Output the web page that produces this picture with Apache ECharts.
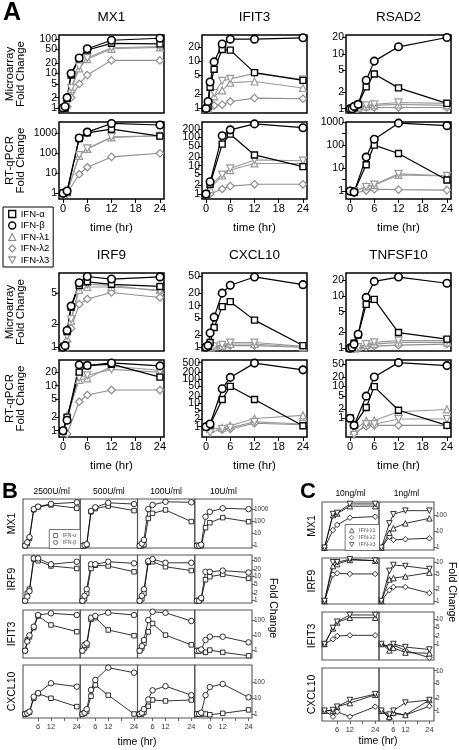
<!DOCTYPE html>
<html><head><meta charset="utf-8">
<script src="https://cdn.jsdelivr.net/npm/echarts@6/dist/echarts.min.js"></script>
<style>html,body{margin:0;padding:0;background:#fff}#c{width:459px;height:750px}</style>
</head><body><div id="c"></div>
<script>
// ---------------- shared ----------------
const seriesNames = ['IFN-α','IFN-β','IFN-λ1','IFN-λ2','IFN-λ3'];
const timeTicksA = [0, 6, 12, 18, 24];
const timeTicksBC = [6, 12, 18, 24];
const timeLabelsBC = [6, 12, 24];

// ---------------- Panel A (order: α, β, λ1, λ2, λ3) ----------------
const timesMicro = [0, 0.5, 1, 2, 4, 6, 12, 24];
const timesQPCR = [0, 1, 4, 6, 12, 24];

const MX1_micro = [
  [1, 1, 1.9, 9, 27, 48, 75, 72],
  [1, 1.1, 2, 10, 28, 52, 92, 105],
  [1, 1, 1.3, 3.5, 14, 26, 52, 57],
  [1, 1, 1.1, 2, 5, 9, 24, 24],
  [1, 1, 1.3, 3.8, 16, 28, 56, 60]];
const MX1_qpcr = [
  [1, 1.2, 550, 1050, 1600, 720],
  [1, 1.3, 580, 1150, 3100, 2600],
  [1, 1.1, 75, 165, 620, 760],
  [1, 1, 9, 20, 66, 100],
  [1, 1.1, 82, 175, 660, 740]];
const IFIT3_micro = [
  [1, 1.1, 2.8, 6.7, 17.5, 17, 5.7, 3.9],
  [1, 1.4, 3.6, 9.6, 23, 29, 29, 31],
  [1, 1, 1.2, 1.8, 2.4, 3.5, 3.7, 2.7],
  [1, 1, 1.1, 1.15, 1.2, 1.4, 1.65, 1.6],
  [1, 1.05, 1.3, 2.1, 3.8, 4.2, 5.5, 4.1]];
const IFIT3_qpcr = [
  [1, 2.2, 58, 130, 24, 9.3],
  [1, 2.7, 115, 185, 300, 220],
  [1, 1.5, 4.5, 7, 12, 12],
  [1, 1, 1.5, 1.9, 2.2, 2.2],
  [1, 2, 4.8, 8, 16, 15]];
const RSAD2_micro = [
  [1, 1, 1.05, 1.2, 2.5, 4.3, 2.4, 1.25],
  [1, 1, 1.1, 1.2, 3.3, 7.4, 13.5, 20],
  [1, 1, 1, 1.05, 1.1, 1.15, 1.2, 1.15],
  [1, 1, 1, 1, 1.05, 1.05, 1.05, 1.05],
  [1, 1, 1, 1.05, 1.15, 1.2, 1.3, 1.25]];
const RSAD2_qpcr = [
  [1, 0.9, 14, 100, 43, 3],
  [1, 0.9, 30, 180, 900, 700],
  [1, 0.9, 1.6, 1.8, 5, 4.5],
  [1, 0.8, 1.05, 1.2, 1.15, 1.1],
  [1, 1, 1.5, 1.9, 5.6, 4.6]];
const IRF9_micro = [
  [1, 1.05, 1.6, 3.3, 6.3, 7, 6.5, 6.1],
  [1, 1.05, 1.65, 3.4, 6.8, 8.2, 7.6, 8.1],
  [1, 1, 1.3, 2.2, 5.5, 6, 6, 5.5],
  [1, 1, 1.2, 1.75, 3.6, 4.2, 5.1, 4.4],
  [1, 1, 1.4, 2.3, 6, 6.5, 6.3, 5.3]];
const IRF9_qpcr = [
  [1, 2, 20, 28, 30, 15.5],
  [1, 1.7, 29, 28, 32, 27.5],
  [1, 2.2, 13.5, 14.5, 27, 22],
  [1, 0.85, 4.4, 6.2, 8, 8],
  [0.9, 1.8, 15, 17, 23, 20]];
const CXCL10_micro = [
  [1, 1.05, 1.3, 3, 9.5, 12.5, 4.5, 1.1],
  [1, 1.1, 2.2, 5.3, 20, 31, 49, 32],
  [1, 1, 1, 1.05, 1.1, 1.2, 1.2, 1.0],
  [1, 1, 1, 1, 1.05, 1.1, 1.1, 1.0],
  [1, 1, 1, 1.05, 1.15, 1.3, 1.3, 1.05]];
const CXCL10_qpcr = [
  [1, 1.2, 14, 50, 14, 1.1],
  [1, 1.3, 40, 120, 480, 250],
  [1, 0.8, 0.9, 1.1, 2.2, 3],
  [1, 0.9, 0.75, 0.8, 1.4, 1.2],
  [1, 0.55, 0.8, 0.9, 1.6, 1.3]];
const TNFSF10_micro = [
  [1, 1.05, 1.25, 1.8, 6.9, 8.6, 2, 1.5],
  [1, 1.05, 1.2, 1.85, 9.4, 19, 23, 17.5],
  [1, 1, 1, 1.05, 1.15, 1.2, 1.3, 1.3],
  [1, 1, 1, 1, 1.05, 1.1, 1.15, 1.2],
  [1, 1, 1, 1.05, 1.2, 1.3, 1.4, 1.4]];
const TNFSF10_qpcr = [
  [1, 0.6, 2.2, 10, 1.8, 0.6],
  [1, 0.6, 5, 20, 57, 46],
  [1, 0.4, 0.85, 0.85, 1.6, 1.9],
  [1, 0.35, 0.55, 0.6, 0.6, 0.6],
  [1, 0.3, 0.65, 0.65, 0.95, 0.95]];

// y tick labels and visible ranges (fold change) for panel A
const MX1_micro_ticks = [1, 2, 5, 10, 20, 50, 100];      const MX1_micro_range = [0.716, 130.6];
const MX1_qpcr_ticks = [1, 10, 100, 1000];               const MX1_qpcr_range = [0.52, 3670];
const IFIT3_micro_ticks = [1, 2, 5, 10, 20];             const IFIT3_micro_range = [0.8, 35.5];
const IFIT3_qpcr_ticks = [1, 2, 5, 10, 20, 50, 100, 200];const IFIT3_qpcr_range = [0.665, 350];
const RSAD2_micro_ticks = [1, 2, 5, 10, 20];             const RSAD2_micro_range = [0.834, 22.2];
const RSAD2_qpcr_ticks = [1, 10, 100, 1000];             const RSAD2_qpcr_range = [0.45, 1010];
const RSAD2_qpcr_minor = [3.162, 31.62, 316.2];
const IRF9_micro_ticks = [1, 2, 5];                      const IRF9_micro_range = [0.895, 9.1];
const IRF9_qpcr_ticks = [1, 2, 5, 10, 20];               const IRF9_qpcr_range = [0.724, 37.2];
const CXCL10_micro_ticks = [1, 2, 5, 10, 20, 50];        const CXCL10_micro_range = [0.815, 61];
const CXCL10_qpcr_ticks = [1, 2, 5, 10, 20, 50, 100, 200, 500]; const CXCL10_qpcr_range = [0.367, 650];
const TNFSF10_micro_ticks = [1, 2, 5, 10, 20];           const TNFSF10_micro_range = [0.888, 27.5];
const TNFSF10_qpcr_ticks = [1, 2, 5, 10, 20, 50];        const TNFSF10_qpcr_range = [0.257, 69];

// ---------------- Panel B (IFN-α, IFN-β at four doses) ----------------
const timesB = [0, 1, 2, 4, 6, 12, 24];
const dosesB = ['2500U/ml', '500U/ml', '100U/ml', '10U/ml'];
const genesB = ['MX1', 'IRF9', 'IFIT3', 'CXCL10'];
const B_MX1_alpha = [[1, 1.5, 4, 900, 1500, 2200, 1200], [1, 1, 1.2, 600, 1100, 1800, 750], [1, 1, 1.2, 170, 450, 850, 95], [1, 1, 1, 30, 77, 200, 93]];
const B_MX1_beta  = [[1, 1.9, 5, 1000, 1600, 2700, 3600], [1, 1.1, 1.3, 700, 1400, 3300, 2600], [1, 1.5, 3, 1000, 2200, 4000, 3600], [1, 1, 1.2, 240, 600, 1170, 1000]];
const B_IRF9_alpha = [[1, 2, 3, 54, 46, 28, 22], [1, 1.2, 2, 22, 30, 28, 16], [1, 1.2, 2, 40, 42, 26, 18], [1, 1, 1.2, 7.5, 10, 12.5, 8.5]];
const B_IRF9_beta  = [[1, 1.5, 2.5, 58, 58, 33, 42], [1, 1.6, 3, 33, 33, 42, 36], [1, 1.6, 3, 45, 54, 38, 38], [1, 1, 1.3, 16, 16, 18, 15]];
const B_IFIT3_alpha = [[1, 5, 8, 32, 185, 48, 17.5], [1, 1.5, 2.2, 112, 144, 22.6, 9.6], [1, 1.5, 3, 17, 60, 10.5, 2.4], [1, 1, 1, 0.78, 1.1, 0.78, 0.47]];
const B_IFIT3_beta  = [[1, 4, 10, 37, 215, 277, 215], [1, 2.4, 3, 144, 185, 305, 215], [1, 2, 5, 100, 350, 300, 87], [1, 1, 1.2, 5, 8.2, 8.2, 3.5]];
const B_CXCL10_alpha = [[1, 1.1, 1.3, 9.6, 19, 9.6, 2.9], [1, 1.1, 1.5, 13, 65, 15, 1], [1, 1, 1.3, 3, 7.5, 6.5, 7.5], [1, 1, 1, 1, 0.9, 1.1, 1.8]];
const B_CXCL10_beta  = [[1, 1.1, 1.4, 12, 20, 83, 51], [1, 1.2, 2, 32, 133, 780, 380], [1, 1.2, 2, 8, 30, 55, 15], [1, 1, 1.2, 15, 48, 75, 11]];
const B_ticks = [[1, 10, 100, 1000], [1, 2, 5, 10, 20, 50], [1, 10, 100], [1, 10, 100]];
const B_ranges = [[0.646, 6760], [0.802, 80.2], [0.333, 457], [0.562, 1148]];

// ---------------- Panel C (IFN-λ1, λ2, λ3 at two doses) ----------------
const timesC = [0, 4, 6, 12, 24];
const dosesC = ['10ng/ml', '1ng/ml'];
const C_MX1_l1 = [[1, 100, 125, 350, 350], [1, 8.3, 15.5, 31, 63]];
const C_MX1_l2 = [[1, 12, 25, 69, 80], [1, 4.7, 3, 3.3, 3.8]];
const C_MX1_l3 = [[1, 115, 135, 480, 480], [1, 31, 112, 186, 186]];
const C_IRF9_l1 = [[1, 8, 9, 11.5, 11], [1, 3.6, 3.9, 4.3, 5.4]];
const C_IRF9_l2 = [[1, 4.8, 5.2, 5, 5], [1, 1.9, 2.3, 2.3, 1.6]];
const C_IRF9_l3 = [[1, 10, 10, 12, 11], [1, 6, 8.5, 8, 6.7]];
const C_IFIT3_l1 = [[1, 4.3, 7.5, 11.6, 11.6], [1, 0.55, 0.7, 0.45, 0.42]];
const C_IFIT3_l2 = [[1, 1.55, 2.1, 2.25, 2.25], [1, 0.8, 0.9, 0.55, 0.28]];
const C_IFIT3_l3 = [[1, 4.5, 8, 15, 15], [1, 0.7, 1.0, 0.75, 0.6]];
const C_CXCL10_l1 = [[1, 1.0, 1.26, 1.55, 2.5], [1, 0.7, 0.9, 0.78, 1.85]];
const C_CXCL10_l2 = [[1, 0.71, 0.94, 0.71, 1.26], [1, 0.65, 0.85, 0.78, 1.3]];
const C_CXCL10_l3 = [[1, 1.04, 1.26, 1.85, 2.6], [1, 0.8, 1.0, 1.6, 1.85]];
const C_ticks = [[1, 10, 100], [1, 2, 5, 10], [1, 2, 5, 10], [1, 2, 5, 10]];
const C_ranges = [[0.723, 631], [0.836, 12.9], [0.225, 19.8], [0.553, 11.7]];

// ---------------- build ----------------
const FONT = '"Liberation Sans", Arial, Helvetica, sans-serif';
const DOWN = 'path://M0,0L10,0L5,9Z';
const lg = v => Math.log10(v);
const fmt = v => String(+Math.pow(10, v).toPrecision(3));

const grids = [], xAxes = [], yAxes = [], series = [];

function yAxisDef(gi, o, labels, withTicks, allTicks) {
  return {gridIndex: gi, type: 'value', min: lg(o.yRange[0]), max: lg(o.yRange[1]),
    show: o.yShow !== false, position: o.yPos, offset: 0,
    axisLine: {show: false, onZero: false}, splitLine: {show: false},
    axisTick: {show: withTicks, customValues: allTicks, length: o.tickLen, lineStyle: {color: o.tickColor, width: o.tickW}},
    axisLabel: {show: labels.length > 0, customValues: labels, hideOverlap: false,
      formatter: v => fmt(v), fontSize: o.yFont, color: o.labelColor, fontFamily: FONT, margin: o.yMargin}};
}

function addCell(o) {
  const gi = grids.length;
  grids.push({left: o.left, top: o.top, width: o.width, height: o.height, show: true,
    borderColor: o.border, borderWidth: o.borderWidth, backgroundColor: 'transparent',
    containLabel: false, outerBoundsMode: 'none'});
  const xa = {gridIndex: gi, type: 'value', min: o.xMin, max: o.xMax,
    axisLine: {show: false, onZero: false}, splitLine: {show: false},
    axisTick: {show: !!o.xTicks, customValues: o.xTicks || [], length: o.tickLen, lineStyle: {color: o.tickColor, width: o.tickW}},
    axisLabel: {show: !!o.xLabels, customValues: o.xLabels || [], hideOverlap: false, fontSize: o.xFont, color: o.labelColor, fontFamily: FONT, margin: o.xMargin}};
  if (o.xName) {
    Object.assign(xa, {name: o.xName, nameLocation: 'middle', nameGap: o.xNameGap,
      nameTextStyle: {fontSize: o.xNameFont, fontFamily: FONT, color: '#000'}});
  }
  const xi = xAxes.length;
  xAxes.push(xa);
  const yt = o.yTicks.map(lg);
  const ytAll = o.yMinor ? yt.concat(o.yMinor.map(lg)) : yt;
  // tick labels split over two coincident axes so that dense labels are all kept
  const even = yt.filter((v, i) => i % 2 === 0), odd = yt.filter((v, i) => i % 2 === 1);
  const yi = yAxes.length;
  yAxes.push(yAxisDef(gi, o, even, true, ytAll));
  if (odd.length) yAxes.push(yAxisDef(gi, o, odd, false, []));
  return {xi: xi, yi: yi};
}

function addSeries(ax, name, times, vals, st) {
  series.push({type: 'line', name: name, xAxisIndex: ax.xi, yAxisIndex: ax.yi,
    data: times.map((t, i) => [t, lg(vals[i])]),
    symbol: st.sym, symbolSize: st.size, showSymbol: true, silent: true, animation: false,
    itemStyle: {color: '#fff', borderColor: st.color, borderWidth: st.bw, opacity: 1},
    lineStyle: {color: st.color, width: st.lw},
    emphasis: {disabled: true}});
}

// Panel A
const STY_A = [
  {sym: 'rect', size: 6, color: '#000', bw: 1.4, lw: 1.2},
  {sym: 'circle', size: 7.5, color: '#000', bw: 1.6, lw: 1.2},
  {sym: 'triangle', size: 7, color: '#9a9a9a', bw: 1.2, lw: 1.1},
  {sym: 'diamond', size: 7.5, color: '#8e8e8e', bw: 1.2, lw: 1.1},
  {sym: DOWN, size: 7, color: '#9a9a9a', bw: 1.2, lw: 1.1}];
const drawOrder = [3, 2, 4, 0, 1];

const panelA = [
  ['MX1', 0, 0, MX1_micro, MX1_micro_ticks, MX1_micro_range, MX1_qpcr, MX1_qpcr_ticks, MX1_qpcr_range, null],
  ['IFIT3', 1, 0, IFIT3_micro, IFIT3_micro_ticks, IFIT3_micro_range, IFIT3_qpcr, IFIT3_qpcr_ticks, IFIT3_qpcr_range, null],
  ['RSAD2', 2, 0, RSAD2_micro, RSAD2_micro_ticks, RSAD2_micro_range, RSAD2_qpcr, RSAD2_qpcr_ticks, RSAD2_qpcr_range, RSAD2_qpcr_minor],
  ['IRF9', 0, 1, IRF9_micro, IRF9_micro_ticks, IRF9_micro_range, IRF9_qpcr, IRF9_qpcr_ticks, IRF9_qpcr_range, null],
  ['CXCL10', 1, 1, CXCL10_micro, CXCL10_micro_ticks, CXCL10_micro_range, CXCL10_qpcr, CXCL10_qpcr_ticks, CXCL10_qpcr_range, null],
  ['TNFSF10', 2, 1, TNFSF10_micro, TNFSF10_micro_ticks, TNFSF10_micro_range, TNFSF10_qpcr, TNFSF10_qpcr_ticks, TNFSF10_qpcr_range, null]];
const colLeftA = [59, 202, 346];
const blockTopA = [35, 273];
const graphics = [];
const txt = (text, x, y, size, opts) => {
  opts = opts || {};
  graphics.push({type: 'text', x: x, y: y, rotation: opts.rot || 0, silent: true,
    style: {text: text, font: (opts.bold ? 'bold ' : '') + size + 'px ' + FONT, fill: opts.color || '#000',
      align: opts.align || 'center', verticalAlign: opts.va || 'middle', lineHeight: opts.lh}});
};

panelA.forEach(p => {
  const [gene, c, r, micro, mT, mR, qp, qT, qR, qMinor] = p;
  const left = colLeftA[c], top = blockTopA[r], w = 105;
  const common = {left: left, width: w, border: '#000', borderWidth: 1.5, xMin: -1, xMax: 25,
    tickLen: 4, tickColor: '#000', tickW: 1, labelColor: '#000', yFont: 10.5, yMargin: 2, yPos: 'left'};
  const a1 = addCell(Object.assign({}, common, {top: top, height: 78, yTicks: mT, yRange: mR}));
  const a2 = addCell(Object.assign({}, common, {top: top + 87, height: 77, yTicks: qT, yRange: qR, yMinor: qMinor,
    xTicks: timeTicksA, xLabels: timeTicksA, xFont: 11, xMargin: 4, xName: 'time (hr)', xNameGap: 23, xNameFont: 11.5}));
  drawOrder.forEach(k => {
    addSeries(a1, seriesNames[k], timesMicro, micro[k], STY_A[k]);
    addSeries(a2, seriesNames[k], timesQPCR, qp[k], STY_A[k]);
  });
  txt(gene, left + w / 2, top - 18, 13.5);
});
txt('A', 3, 1, 25, {bold: true, align: 'left', va: 'top'});
[[74, 'Microarray\nFold Change'], [160.5, 'RT-qPCR\nFold Change'], [312, 'Microarray\nFold Change'], [398.5, 'RT-qPCR\nFold Change']]
  .forEach(([y, t]) => txt(t, 15.5, y, 11.5, {rot: Math.PI / 2, lh: 11}));

// Panel B
const STY_B = [
  {sym: 'rect', size: 4.5, color: '#000', bw: 0.8, lw: 0.8},
  {sym: 'circle', size: 5.5, color: '#000', bw: 0.8, lw: 0.8}];
const bData = [[B_MX1_alpha, B_MX1_beta], [B_IRF9_alpha, B_IRF9_beta], [B_IFIT3_alpha, B_IFIT3_beta], [B_CXCL10_alpha, B_CXCL10_beta]];
const bRowTop = [499, 555, 610, 665], bRowH = [49, 48, 48, 53];
const bColW = 57.25;
genesB.forEach((gene, r) => {
  for (let c = 0; c < 4; c++) {
    const ax = addCell({left: 23 + c * bColW, top: bRowTop[r], width: bColW, height: bRowH[r],
      border: '#555', borderWidth: 1.1, xMin: -1, xMax: 25.6,
      tickLen: 3, tickColor: '#444', tickW: 0.8, labelColor: '#333',
      yTicks: B_ticks[r], yRange: B_ranges[r], yShow: c === 3, yPos: 'right', yFont: 6.5, yMargin: 2,
      xTicks: r === 3 ? timeTicksBC : null, xLabels: r === 3 ? timeLabelsBC : null, xFont: 7.5, xMargin: 5});
    addSeries(ax, seriesNames[0], timesB, bData[r][0][c], STY_B[0]);
    addSeries(ax, seriesNames[1], timesB, bData[r][1][c], STY_B[1]);
  }
  txt(gene, 12.5, bRowTop[r] + bRowH[r] / 2, 10.5, {rot: Math.PI / 2});
});
dosesB.forEach((d, c) => txt(d, 23 + (c + 0.5) * bColW, 492, 8.5));
txt('B', 2, 481, 22, {bold: true, align: 'left', va: 'top'});
txt('time (hr)', 137, 742, 10.5);
txt('Fold Change', 273, 608, 10.5, {rot: -Math.PI / 2});

// Panel C
const STY_C = [
  {sym: 'triangle', size: 5.5, color: '#000', bw: 0.8, lw: 0.8},
  {sym: 'diamond', size: 5.5, color: '#000', bw: 0.8, lw: 0.8},
  {sym: DOWN, size: 5.5, color: '#000', bw: 0.8, lw: 0.8}];
const cData = [[C_MX1_l1, C_MX1_l2, C_MX1_l3], [C_IRF9_l1, C_IRF9_l2, C_IRF9_l3], [C_IFIT3_l1, C_IFIT3_l2, C_IFIT3_l3], [C_CXCL10_l1, C_CXCL10_l2, C_CXCL10_l3]];
const cRowTop = [502, 558, 612, 668], cRowH = [48, 46, 48, 53];
const cColLeft = [322, 379], cColW = [57, 55], cXMax = [25.8, 26.3];
genesB.forEach((gene, r) => {
  for (let c = 0; c < 2; c++) {
    const ax = addCell({left: cColLeft[c], top: cRowTop[r], width: cColW[c], height: cRowH[r],
      border: '#555', borderWidth: 1.1, xMin: -1.2, xMax: cXMax[c],
      tickLen: 3, tickColor: '#444', tickW: 0.8, labelColor: '#333',
      yTicks: C_ticks[r], yRange: C_ranges[r], yShow: c === 1, yPos: 'right', yFont: 6.5, yMargin: 2,
      xTicks: r === 3 ? timeTicksBC : null, xLabels: r === 3 ? timeLabelsBC : null, xFont: 7.5, xMargin: 5});
    [1, 0, 2].forEach(k => addSeries(ax, seriesNames[k + 2], timesC, cData[r][k][c], STY_C[k]));
  }
  txt(gene, 312, cRowTop[r] + cRowH[r] / 2, 10.5, {rot: Math.PI / 2});
});
dosesC.forEach((d, c) => txt(d, cColLeft[c] + cColW[c] / 2, 494, 8.5));
txt('C', 300, 481, 22, {bold: true, align: 'left', va: 'top'});
txt('time (hr)', 378, 741, 10.5);
txt('Fold Change', 452, 592, 10.5, {rot: -Math.PI / 2});

// legends
const legItem = (name, icon, color, bw) => ({name: name, icon: icon, itemStyle: {color: '#fff', borderColor: color, borderWidth: bw}});
const legends = [
  {left: 3, top: 207, orient: 'vertical', padding: [2, 4, 2, 5], itemGap: 1.5, itemWidth: 7, itemHeight: 7,
   borderColor: '#000', borderWidth: 1, backgroundColor: '#fff', selectedMode: false,
   textStyle: {fontSize: 9.5, fontFamily: FONT, color: '#000'},
   data: [legItem('IFN-α', 'rect', '#000', 1.3), legItem('IFN-β', 'circle', '#000', 1.4),
          legItem('IFN-λ1', 'triangle', '#8a8a8a', 1.1), legItem('IFN-λ2', 'diamond', '#8a8a8a', 1.1),
          legItem('IFN-λ3', DOWN, '#8a8a8a', 1.1)]},
  {right: 459 - 80.5, bottom: 750 - 548.5, orient: 'vertical', padding: [3, 4, 3, 4], itemGap: 1, itemWidth: 4, itemHeight: 4,
   borderColor: '#555', borderWidth: 0.8, backgroundColor: '#fff', selectedMode: false,
   textStyle: {fontSize: 5.5, fontFamily: FONT, color: '#555'},
   data: [legItem('IFN-α', 'rect', '#333', 0.7), legItem('IFN-β', 'circle', '#333', 0.7)]},
  {right: 459 - 379.5, bottom: 750 - 550.5, orient: 'vertical', padding: [3, 4, 3, 4], itemGap: 1, itemWidth: 4.5, itemHeight: 4.5,
   borderColor: '#555', borderWidth: 0.8, backgroundColor: '#fff', selectedMode: false,
   textStyle: {fontSize: 5.5, fontFamily: FONT, color: '#555'},
   data: [legItem('IFN-λ1', 'triangle', '#333', 0.7), legItem('IFN-λ2', 'diamond', '#333', 0.7), legItem('IFN-λ3', DOWN, '#333', 0.7)]}];

const chart = echarts.init(document.getElementById('c'), null, {renderer: 'canvas'});
chart.setOption({
  animation: false, backgroundColor: '#fff',
  textStyle: {fontFamily: FONT},
  grid: grids, xAxis: xAxes, yAxis: yAxes, series: series,
  legend: legends, graphic: graphics
});
</script></body></html>
